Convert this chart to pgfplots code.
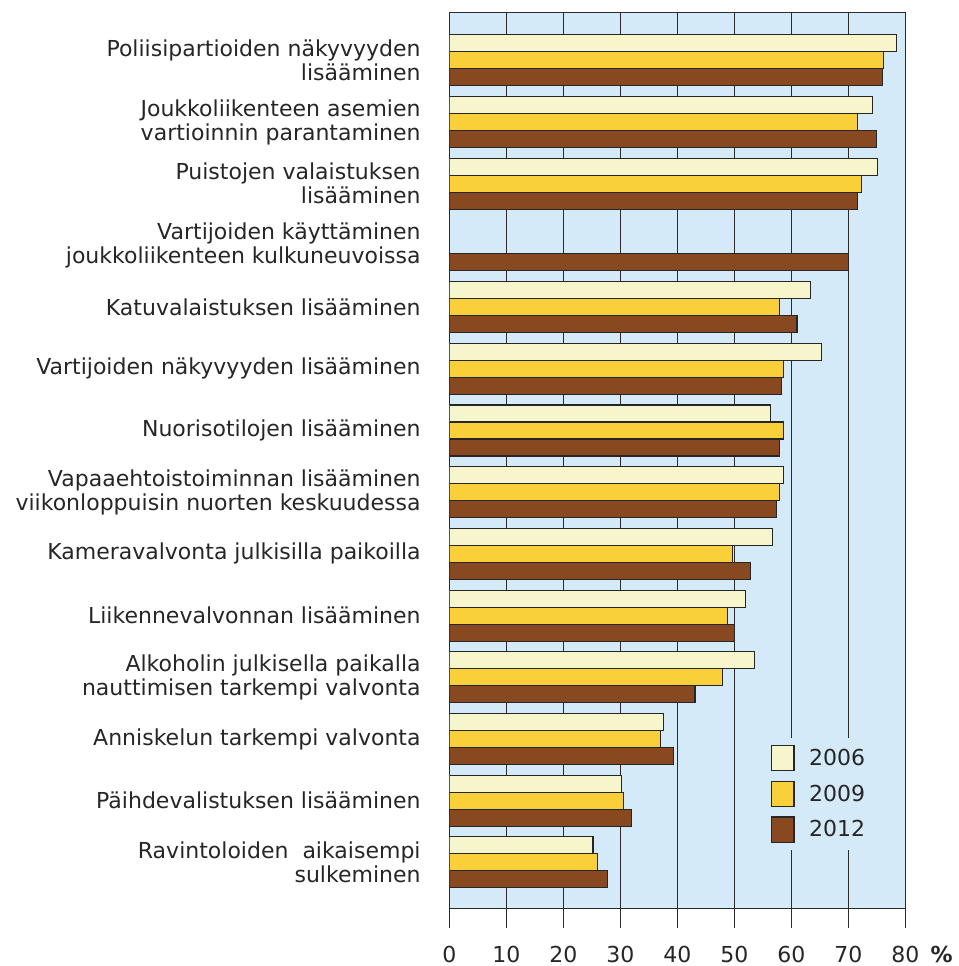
\documentclass[border=0pt]{standalone}
\usepackage{fontspec}
\setmainfont{DejaVu Sans}
\usepackage{pgfplots}
\pgfplotsset{compat=1.18}

\definecolor{c06}{HTML}{F7F5CC}
\definecolor{c09}{HTML}{FAD03A}
\definecolor{c12}{HTML}{884820}
\definecolor{bgblue}{HTML}{D4EAF8}
\definecolor{gridc}{HTML}{2B2B2B}

\newcommand{\lblfont}{\fontsize{16.5}{18}\selectfont}

\begin{document}
\begin{tikzpicture}
\path[use as bounding box] (-337pt,-43.3pt) rectangle (381.5pt,681.2pt);
\begin{axis}[
    at={(0,0)}, anchor=south west,
    scale only axis,
    width=342pt, height=672pt,
    xbar=0pt, bar width=12.75pt,
    xmin=0, xmax=80,
    ymin=-0.78, ymax=13.745,
    y dir=reverse,
    axis background/.style={fill=bgblue},
    axis line style={gridc, line width=0.8pt},
    xmajorgrids,
    grid style={gridc, line width=0.9pt},
    xtick={0,10,...,80},
    xtick pos=bottom,
    tick align=outside,
    major tick length=15pt,
    xtick style={gridc, line width=0.8pt},
    ytick={0,...,13},
    ytick style={draw=none},
    yticklabels={
        {Poliisipartioiden näkyvyyden\\lisääminen},
        {Joukkoliikenteen asemien\\vartioinnin parantaminen},
        {Puistojen valaistuksen\\lisääminen},
        {Vartijoiden käyttäminen\\joukkoliikenteen kulkuneuvoissa},
        {Katuvalaistuksen lisääminen},
        {Vartijoiden näkyvyyden lisääminen},
        {Nuorisotilojen lisääminen},
        {Vapaaehtoistoiminnan lisääminen\\viikonloppuisin nuorten keskuudessa},
        {Kameravalvonta julkisilla paikoilla},
        {Liikennevalvonnan lisääminen},
        {Alkoholin julkisella paikalla\\nauttimisen tarkempi valvonta},
        {Anniskelun tarkempi valvonta},
        {Päihdevalistuksen lisääminen},
        {Ravintoloiden\ \ aikaisempi\\sulkeminen}
    },
    yticklabel style={align=right, font=\lblfont, inner sep=0pt, xshift=-6.4pt, text=black!85},
    xticklabel style={font=\lblfont, anchor=base, inner sep=0pt, yshift=-25.3pt, text=black!85},
    /pgf/number format/assume math mode=true,
    reverse legend,
    legend cell align=left,
    legend image code/.code={\draw[#1, line width=0.8pt] (0pt,-9.5pt) rectangle (17pt,9.5pt);},
    legend style={at={(0.681,0.19)}, anchor=north west, draw=none, fill=bgblue,
        font=\lblfont, text=black!85, row sep=7pt, inner xsep=8pt, inner ysep=5pt,
        /tikz/every odd column/.append style={column sep=9pt}},
]
% plotted 2012, 2009, 2006 so that 2006 sits on top of each group
\addplot[fill=c12, draw=black!85, line width=0.8pt] coordinates {
    (76.0,0) (74.9,1) (71.6,2) (70.0,3) (61.0,4) (58.2,5) (58.0,6) (57.4,7)
    (52.9,8) (50.1,9) (43.1,10) (39.4,11) (31.9,12) (27.8,13)};
\addplot[fill=c09, draw=black!85, line width=0.8pt] coordinates {
    (76.1,0) (71.6,1) (72.3,2) (58.0,4) (58.7,5) (58.6,6) (58.0,7)
    (49.7,8) (48.8,9) (48.0,10) (37.1,11) (30.5,12) (26.0,13)};
\addplot[fill=c06, draw=black!85, line width=0.8pt] coordinates {
    (78.5,0) (74.2,1) (75.1,2) (63.3,4) (65.3,5) (56.3,6) (58.6,7)
    (56.7,8) (51.9,9) (53.5,10) (37.5,11) (30.2,12) (25.2,13)};
\legend{2012,2009,2006}
\end{axis}
\node[anchor=base west, inner sep=0pt, font=\lblfont\bfseries, text=black!85]
    at ([xshift=18.75pt, yshift=-40.3pt]current axis.south east) {\%};
\end{tikzpicture}
\end{document}
